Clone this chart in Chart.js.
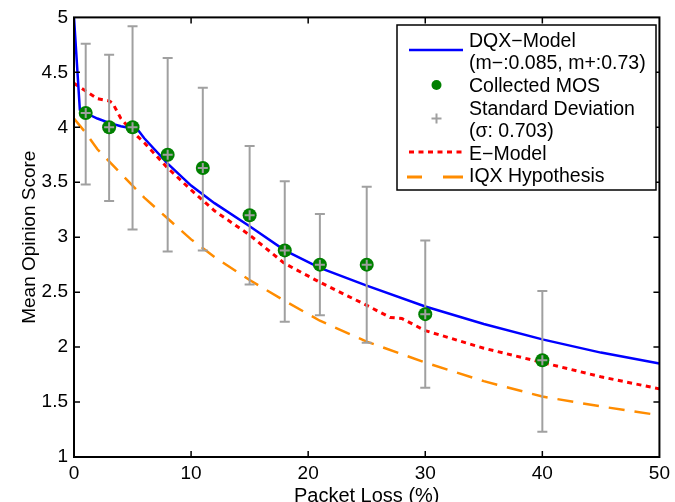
<!DOCTYPE html>
<html>
<head>
<meta charset="utf-8">
<script src="https://cdn.jsdelivr.net/npm/chart.js@4.4.1/dist/chart.umd.min.js"></script>
<style>
  html, body { margin: 0; padding: 0; background: #fff; overflow: hidden; }
  #wrap { width: 675px; height: 510px; }
</style>
</head>
<body>
<div id="wrap"><canvas id="chart" width="675" height="510"></canvas></div>
<script>
// measured MOS with standard deviation bars
const mosX = [1, 3, 5, 8, 11, 15, 18, 21, 25, 30, 40];
const mosMean = [4.13, 4.0, 4.0, 3.75, 3.63, 3.2, 2.88, 2.75, 2.75, 2.3, 1.88];
const sdLow = [3.48, 3.33, 3.07, 2.87, 2.88, 2.57, 2.23, 2.29, 2.04, 1.63, 1.23];
const sdHigh = [4.76, 4.66, 4.92, 4.63, 4.36, 3.83, 3.51, 3.21, 3.46, 2.97, 2.51];

// model curves
const dqxX = [0, 0.5, 1, 2, 3, 4, 5, 5.5, 6, 8, 10, 12, 15, 18, 21, 25, 30, 35, 40, 45, 50];
const dqxY = [5.0, 4.16, 4.13, 4.08, 4.04, 4.01, 3.99, 3.97, 3.90, 3.67, 3.47, 3.31, 3.10, 2.88, 2.72, 2.56, 2.37, 2.21, 2.07, 1.95, 1.85];

const eX = [0, 1, 2, 3, 3.3, 4, 5, 6, 8, 10, 12, 15, 18, 21, 25, 27, 28, 30, 35, 40, 45, 50];
const eY = [4.40, 4.33, 4.26, 4.24, 4.22, 4.08, 3.96, 3.86, 3.63, 3.43, 3.24, 3.02, 2.76, 2.59, 2.38, 2.27, 2.26, 2.15, 1.99, 1.86, 1.73, 1.62];

const iqxX = [0, 1, 2, 3, 4, 5, 6, 8, 10, 12, 15, 18, 21, 25, 30, 35, 40, 45, 50];
const iqxY = [4.08, 3.95, 3.80, 3.69, 3.58, 3.47, 3.36, 3.17, 2.98, 2.82, 2.61, 2.42, 2.24, 2.05, 1.86, 1.69, 1.55, 1.46, 1.38];

const xTicks = [0, 10, 20, 30, 40, 50];
const yTicks = [1, 1.5, 2, 2.5, 3, 3.5, 4, 4.5, 5];

const BLUE = '#0000ff';
const RED = '#ff0000';
const ORANGE = 'rgb(255,140,0)';
const GREEN = 'rgb(0,128,0)';
const GRAY = 'rgb(160,160,160)';
const FONT = '"Liberation Sans", Arial, sans-serif';

function pts(xs, ys) {
    return xs.map((x, i) => ({ x: x, y: ys[i] }));
}

// error bars as one line dataset, broken by null points
var errData = [];
mosX.forEach((x, i) => {
    errData.push({ x: x, y: sdLow[i] });
    errData.push({ x: x, y: sdHigh[i] });
    errData.push({ x: x, y: null });
});

const boxAndLegend = {
    id: 'boxAndLegend',
    afterDraw(chart) {
        const ctx = chart.ctx;
        const a = chart.chartArea;
        const xs = chart.scales.x;
        const ys = chart.scales.y;
        ctx.save();

        // inward ticks on all four sides
        ctx.strokeStyle = '#000';
        ctx.lineWidth = 1.5;
        ctx.beginPath();
        xTicks.slice(1, -1).forEach(v => {
            const px = xs.getPixelForValue(v);
            ctx.moveTo(px, a.bottom); ctx.lineTo(px, a.bottom - 6);
            ctx.moveTo(px, a.top); ctx.lineTo(px, a.top + 6);
        });
        yTicks.slice(1, -1).forEach(v => {
            const py = ys.getPixelForValue(v);
            ctx.moveTo(a.left, py); ctx.lineTo(a.left + 6, py);
            ctx.moveTo(a.right, py); ctx.lineTo(a.right - 6, py);
        });
        ctx.stroke();

        // axes box
        ctx.lineWidth = 2;
        ctx.strokeRect(a.left, a.top, a.right - a.left, a.bottom - a.top);

        // legend
        const L = 397, T = 25, R = 656, B = 190;
        ctx.fillStyle = '#fff';
        ctx.fillRect(L, T, R - L, B - T);
        ctx.strokeStyle = '#000';
        ctx.lineWidth = 1.5;
        ctx.strokeRect(L, T, R - L, B - T);

        const sx0 = 409, sx1 = 463, mid = 436.5;
        ctx.lineCap = 'butt';

        ctx.strokeStyle = BLUE;
        ctx.lineWidth = 2.5;
        ctx.beginPath(); ctx.moveTo(sx0, 50); ctx.lineTo(sx1, 50); ctx.stroke();

        ctx.fillStyle = GREEN;
        ctx.beginPath(); ctx.arc(mid, 85, 5, 0, Math.PI * 2); ctx.fill();

        ctx.strokeStyle = GRAY;
        ctx.lineWidth = 2;
        ctx.beginPath();
        ctx.moveTo(mid - 5, 118.5); ctx.lineTo(mid + 5, 118.5);
        ctx.moveTo(mid, 113.5); ctx.lineTo(mid, 123.5);
        ctx.stroke();

        ctx.strokeStyle = RED;
        ctx.lineWidth = 3;
        ctx.setLineDash([5, 4.5]);
        ctx.beginPath(); ctx.moveTo(sx0, 152); ctx.lineTo(sx1, 152); ctx.stroke();

        ctx.strokeStyle = ORANGE;
        ctx.setLineDash([]);
        ctx.beginPath();
        ctx.moveTo(407, 177); ctx.lineTo(422, 177);
        ctx.moveTo(443, 177); ctx.lineTo(463, 177);
        ctx.stroke();

        ctx.fillStyle = '#000';
        ctx.font = '19.5px ' + FONT;
        ctx.textAlign = 'left';
        ctx.textBaseline = 'alphabetic';
        const lines = ['DQX\u2212Model', '(m\u2212:0.085, m+:0.73)', 'Collected MOS', 'Standard Deviation',
            '(\u03c3: 0.703)', 'E\u2212Model', 'IQX Hypothesis'];
        lines.forEach((t, i) => ctx.fillText(t, 469, 46.7 + i * 22.6));

        ctx.restore();
    }
};

new Chart(document.getElementById('chart'), {
    type: 'scatter',
    data: {
        datasets: [
            {
                label: 'Standard Deviation marker',
                data: pts(mosX, mosMean),
                pointStyle: 'cross',
                pointRadius: 5,
                pointBorderWidth: 2,
                borderColor: GRAY,
                showLine: false,
                order: 0
            },
            {
                label: 'Collected MOS',
                data: pts(mosX, mosMean),
                pointStyle: 'circle',
                pointRadius: 7,
                backgroundColor: GREEN,
                borderColor: GREEN,
                pointBorderWidth: 0,
                showLine: false,
                order: 1
            },
            {
                label: 'Standard Deviation',
                data: errData,
                showLine: true,
                spanGaps: false,
                borderColor: GRAY,
                borderWidth: 2,
                pointStyle: 'line',
                pointRadius: 5,
                pointBorderWidth: 2,
                pointBorderColor: GRAY,
                order: 2
            },
            {
                label: 'DQX-Model',
                data: pts(dqxX, dqxY),
                showLine: true,
                borderColor: BLUE,
                borderWidth: 2.5,
                pointRadius: 0,
                tension: 0,
                order: 3
            },
            {
                label: 'E-Model',
                data: pts(eX, eY),
                showLine: true,
                borderColor: RED,
                borderWidth: 3,
                borderDash: [5, 4.5],
                pointRadius: 0,
                tension: 0,
                order: 4
            },
            {
                label: 'IQX Hypothesis',
                data: pts(iqxX, iqxY),
                showLine: true,
                borderColor: ORANGE,
                borderWidth: 2.5,
                borderDash: [16, 10],
                pointRadius: 0,
                tension: 0,
                order: 5
            }
        ]
    },
    options: {
        responsive: false,
        animation: false,
        events: [],
        layout: { padding: { top: 16, right: 12, left: 0, bottom: 0 } },
        plugins: {
            legend: { display: false },
            tooltip: { enabled: false }
        },
        scales: {
            x: {
                type: 'linear',
                min: 0,
                max: 50,
                afterFit: s => { s.height = 53; },
                afterBuildTicks: s => { s.ticks = xTicks.map(v => ({ value: v })); },
                grid: { display: false, drawTicks: false },
                border: { display: false },
                ticks: { color: '#000', padding: 5, font: { family: FONT, size: 19 }, callback: v => String(v) },
                title: {
                    display: true,
                    text: 'Packet Loss (%)',
                    color: '#000',
                    font: { family: FONT, size: 20 },
                    padding: { top: 0, bottom: 2 }
                }
            },
            y: {
                type: 'linear',
                min: 1,
                max: 5,
                afterFit: s => { s.width = 74; },
                afterBuildTicks: s => { s.ticks = yTicks.map(v => ({ value: v })); },
                grid: { display: false, drawTicks: false },
                border: { display: false },
                ticks: { color: '#000', padding: 6, font: { family: FONT, size: 19 }, callback: v => String(v) },
                title: {
                    display: true,
                    text: 'Mean Opinion Score',
                    color: '#000',
                    font: { family: FONT, size: 19 },
                    padding: { top: 18, bottom: 0 }
                }
            }
        }
    },
    plugins: [boxAndLegend]
});
</script>
</body>
</html>
